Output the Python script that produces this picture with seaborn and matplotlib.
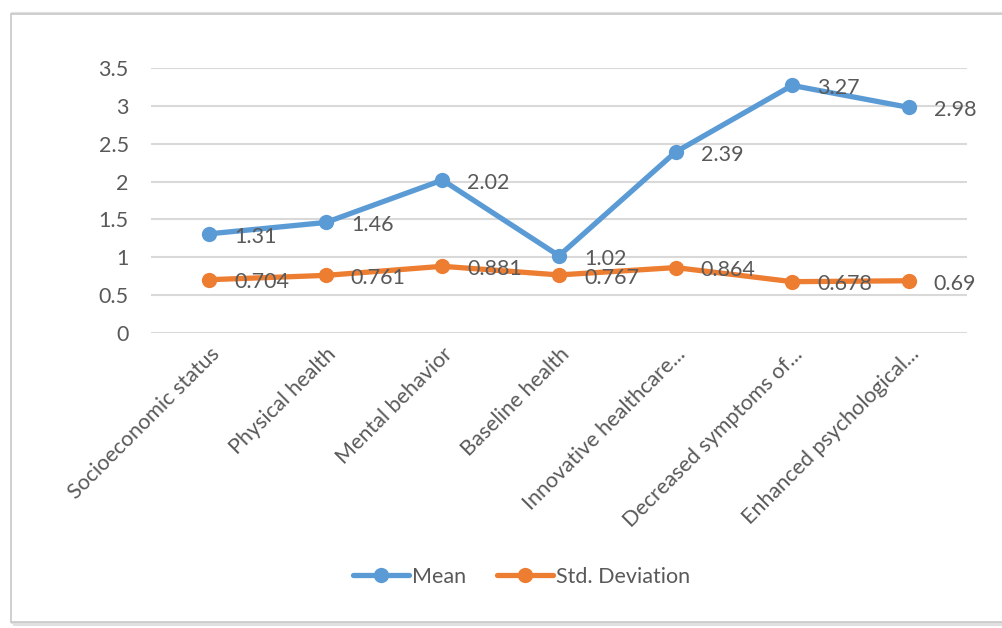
import matplotlib
matplotlib.use("Agg")
import matplotlib.pyplot as plt
import seaborn as sns
import pandas as pd
from matplotlib.patches import Rectangle

categories = ["Socioeconomic status", "Physical health", "Mental behavior", "Baseline health",
              "Innovative healthcare...", "Decreased symptoms of...", "Enhanced psychological..."]
mean_vals = [1.31, 1.46, 2.02, 1.02, 2.39, 3.27, 2.98]
std_vals = [0.704, 0.761, 0.881, 0.767, 0.864, 0.678, 0.69]
mean_labels = ["1.31", "1.46", "2.02", "1.02", "2.39", "3.27", "2.98"]
std_labels = ["0.704", "0.761", "0.881", "0.767", "0.864", "0.678", "0.69"]
yticks = [0, 0.5, 1, 1.5, 2, 2.5, 3, 3.5]
ytick_labels = ["0", "0.5", "1", "1.5", "2", "2.5", "3", "3.5"]

sns.set_theme(style="white")
plt.rcParams['font.family'] = ['Lato', 'DejaVu Sans']

BLUE = "#5B9BD5"
ORANGE = "#ED7D31"
TXT = "#595959"
FS = 15.5

fig = plt.figure(figsize=(10.03, 6.28), dpi=100)
# chart border with shadow
fig.patches.append(Rectangle((13/1003, 1-624/628), 992/1003, 610/628, transform=fig.transFigure,
                             facecolor="none", edgecolor="#E0E0E0", lw=3, zorder=-20))
fig.patches.append(Rectangle((11/1003, 1-622/628), 992/1003, 608/628, transform=fig.transFigure,
                             facecolor="white", edgecolor="#C8C8C8", lw=1.2, zorder=-10))

ax = fig.add_axes([151/1003, 1-333/628, (967-151)/1003, (333-68)/628])
ax.set_facecolor("none")
ax.set_zorder(5)

df = pd.DataFrame({"cat": categories * 2,
                   "val": mean_vals + std_vals,
                   "series": ["Mean"] * len(categories) + ["Std. Deviation"] * len(categories)})
sns.lineplot(data=df, x="cat", y="val", hue="series", palette=[BLUE, ORANGE], sort=False,
             marker="o", markersize=11, markeredgewidth=0, linewidth=3.8, ax=ax, legend=True, zorder=3)

for i, (v, l) in enumerate(zip(mean_vals, mean_labels)):
    ax.annotate(l, (i, v), xytext=(18, -2), textcoords="offset points", ha="left", va="center",
                fontsize=FS, color=TXT, zorder=4)
for i, (v, l) in enumerate(zip(std_vals, std_labels)):
    ax.annotate(l, (i, v), xytext=(18, -2), textcoords="offset points", ha="left", va="center",
                fontsize=FS, color=TXT, zorder=4)

ax.set_ylim(0, 3.5)
ax.set_xlim(-0.5, len(categories) - 0.5)
ax.set_yticks(yticks)
ax.set_yticklabels(ytick_labels)
ax.set_xticks(range(len(categories)))
ax.set_xticklabels(categories, rotation=45, ha="right", rotation_mode="anchor")
ax.tick_params(axis="y", length=0, pad=16, labelsize=FS, labelcolor=TXT)
ax.tick_params(axis="x", length=0, pad=8, labelsize=FS, labelcolor=TXT)
ax.grid(axis="y", color="#D9D9D9", lw=1.5)
ax.set_axisbelow(True)
for s in ax.spines.values():
    s.set_visible(False)
ax.set_xlabel("")
ax.set_ylabel("")

handles, labels = ax.get_legend_handles_labels()
ax.legend(handles, labels, loc="center", bbox_to_anchor=(0.52, 1-577/628), bbox_transform=fig.transFigure,
          ncol=2, frameon=False, fontsize=FS, labelcolor=TXT, handlelength=2.6, handletextpad=0.15,
          columnspacing=1.4)

fig.savefig("out.png", dpi=100)
